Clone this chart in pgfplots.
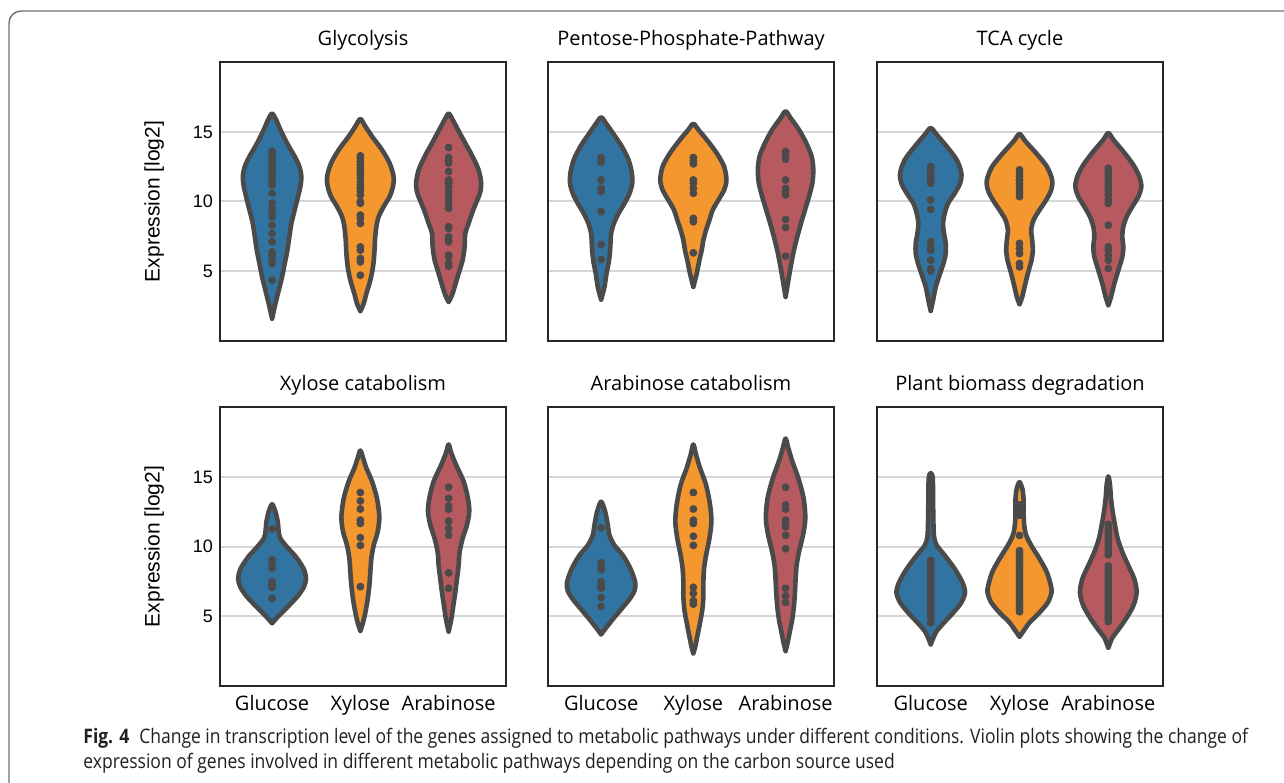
\documentclass[border=0pt]{standalone}
\usepackage{fontspec}
\setmainfont{Open Sans}
\newfontfamily\arial{Liberation Sans}
\newfontfamily\capfont[FakeStretch=0.875]{Open Sans}
\usepackage{pgfplots}
\pgfplotsset{compat=1.18}
\definecolor{vblue}{HTML}{3274A1}
\definecolor{vorange}{HTML}{F5972F}
\definecolor{vred}{HTML}{B65A5F}
\definecolor{vedge}{HTML}{4A4A4A}
\definecolor{vgrid}{HTML}{D6D6D6}
\definecolor{vframe}{HTML}{262626}
\definecolor{capframe}{HTML}{707070}
\definecolor{captext}{HTML}{231F20}

% #1 centre, #2 fill, #3 width divisor, #4 bottom tip, #5 top tip, #6 y/halfwidth pairs (bottom to top)
\newcommand{\violin}[6]{%
  \gdef\vR{}\gdef\vL{}%
  \foreach \yy/\ww in {#6} {%
    \pgfmathsetmacro{\xr}{#1+\ww/#3}%
    \pgfmathsetmacro{\xl}{#1-\ww/#3}%
    \xdef\vR{\vR(\xr,\yy)}%
    \xdef\vL{(\xl,\yy)\vL}%
  }%
  \edef\doplot{\noexpand\addplot[violin, fill=#2] coordinates {(#1,#4)\vR(#1,#5)\vL(#1,#4)};}%
  \doplot
}
\newcommand{\vpts}[2]{%
  \gdef\vP{}%
  \foreach \yy in {#2} {\xdef\vP{\vP(#1,\yy)}}%
  \edef\doplot{\noexpand\addplot[pts] coordinates {\vP};}%
  \doplot
}

\pgfplotsset{
  violin/.style={smooth, draw=vedge, line width=2.3pt, line join=round, line cap=round, mark=none},
  pts/.style={only marks, mark=*, mark size=1.75pt, color=vedge, mark options={draw=none, fill=vedge}},
  every axis title/.style={at={(0.5,1)}, anchor=base, yshift=8pt, font=\fontsize{10}{12}\selectfont},
  panel/.style={
    scale only axis, width=143pt, height=139.5pt,
    ymin=-0.05, ymax=20.05,
    ytick={5,10,15}, yticklabels={}, xtick={0,1,2}, xticklabels={},
    ymajorgrids, grid style={vgrid, line width=1pt},
    axis line style={vframe, line width=1.3pt},
    major tick length=0pt, tick style={draw=none},
    anchor=south west,
  },
  colA/.style={xmin=-0.59, xmax=2.65,
    yticklabels={5,10,15},
    yticklabel style={font=\arial\fontsize{9}{9}\selectfont},
    ylabel={Expression [log2]},
    ylabel style={font=\arial\fontsize{10.5}{12}\selectfont, at={(axis description cs:-0.23,0.5)}, anchor=center}},
  colB/.style={xmin=-0.576, xmax=2.525},
  colC/.style={xmin=-0.605, xmax=2.616},
  rowB/.style={xticklabels={Glucose,Xylose,Arabinose},
    xticklabel style={font=\fontsize{10}{12}\selectfont, anchor=base, yshift=-12pt}},
}

\begin{document}
\begin{tikzpicture}
\useasboundingbox (0,0) rectangle (642pt,391pt);
\fill[white] (0,0) rectangle (642pt,391pt);
\draw[capframe, line width=0.7pt, rounded corners=6pt] (4.5pt,-6pt) -- (4.5pt,385.5pt) -- (660pt,385.5pt);

% ---------------- Glycolysis
\begin{axis}[panel, colA, at={(110pt,220.5pt)}, title={Glycolysis}]
\violin{0}{vblue}{265.5}{1.55}{16.33}{2.64/10, 3.6/20, 4.57/30, 5.53/38, 6.49/46, 7.46/52, 8.42/58, 9.39/68, 10.35/78, 11.07/85, 11.8/88, 12.52/82, 13.24/68, 14.2/45, 15.17/25, 15.89/12}
\violin{1}{vorange}{265.5}{2.1}{15.94}{2.64/10, 3.36/18, 4.33/30, 5.29/38, 6.25/42, 7.22/44, 8.18/48, 8.9/55, 9.63/70, 10.35/88, 11.07/98, 11.8/100, 12.76/88, 13.72/65, 14.69/35, 15.41/15}
\violin{2}{vred}{265.5}{2.76}{16.33}{3.24/10, 3.84/18, 4.81/30, 5.77/42, 6.73/48, 7.7/50, 8.42/60, 9.14/70, 9.87/82, 10.59/94, 11.31/98, 12.28/90, 13.24/72, 14.2/50, 15.17/28, 15.89/12}
\vpts{0}{13.6, 13.36, 13.12, 12.88, 12.64, 12.4, 12.16, 11.92, 11.67, 11.43, 11.19, 10.59, 9.87, 9.51, 9.27, 8.9, 8.3, 7.7, 7.1, 6.37, 6.13, 5.77, 5.53, 4.33}
\vpts{1}{13.29, 13.12, 12.88, 12.64, 12.4, 12.16, 11.92, 11.67, 11.43, 11.19, 10.95, 10.71, 10.47, 9.99, 9.87, 9.02, 8.78, 8.42, 6.73, 6.49, 5.89, 5.65, 4.69}
\vpts{2}{13.89, 13.17, 12.93, 12.76, 12.16, 11.55, 11.43, 11.31, 11.07, 10.71, 10.4, 10.11, 9.75, 9.51, 8.18, 8.06, 7.46, 7.22, 7.1, 6.13, 6.01, 5.53, 5.34}
\end{axis}

% ---------------- Pentose-Phosphate-Pathway
\begin{axis}[panel, colB, at={(274pt,220.5pt)}, title={Pentose-Phosphate-Pathway}]
\violin{0}{vblue}{276}{2.93}{16.06}{3.84/10, 4.81/16, 5.53/22, 6.25/26, 6.98/28, 7.7/30, 8.42/38, 9.14/52, 9.87/70, 10.59/85, 11.31/93, 12.04/92, 13.0/82, 13.96/62, 14.93/35, 15.65/14}
\violin{1}{vorange}{276}{3.84}{15.6}{4.81/10, 5.77/18, 6.49/25, 7.22/30, 7.94/38, 8.66/48, 9.39/58, 10.11/75, 10.83/92, 11.55/99, 12.52/92, 13.48/70, 14.45/40, 15.17/15}
\violin{2}{vred}{276}{3.12}{16.5}{3.84/5, 4.57/10, 5.53/17, 6.49/25, 7.46/35, 8.42/46, 9.39/58, 10.35/70, 11.31/80, 12.28/83, 13.24/78, 14.2/62, 15.17/40, 16.01/15}
\vpts{0}{13.17, 13.0, 12.83, 11.55, 10.95, 10.71, 9.27, 6.9, 5.82}
\vpts{1}{13.17, 12.93, 12.71, 11.55, 11.31, 10.95, 10.59, 8.78, 8.54, 6.3}
\vpts{2}{13.6, 13.36, 13.05, 11.55, 10.95, 10.71, 10.47, 8.71, 8.13, 6.06}
\end{axis}

% ---------------- TCA cycle
\begin{axis}[panel, colC, at={(438.5pt,220.5pt)}, title={TCA cycle}]
\violin{0}{vblue}{266.5}{2.11}{15.29}{2.88/7, 3.84/15, 4.81/28, 5.53/38, 6.25/45, 6.98/45, 7.7/40, 8.42/37, 9.14/42, 9.87/52, 10.59/72, 11.31/88, 12.04/92, 13.0/78, 13.96/48, 14.81/18}
\violin{1}{vorange}{266.5}{2.59}{14.86}{3.12/8, 3.84/15, 4.81/25, 5.77/36, 6.49/40, 7.22/38, 7.94/35, 8.66/42, 9.39/60, 10.11/80, 10.83/95, 11.55/98, 12.52/82, 13.48/50, 14.33/18}
\violin{2}{vred}{266.5}{2.52}{14.93}{3.12/8, 4.08/18, 5.05/30, 6.01/42, 6.73/45, 7.46/42, 8.18/45, 8.9/55, 9.63/72, 10.35/90, 11.07/99, 11.8/93, 12.64/75, 13.6/45, 14.45/15}
\vpts{0}{12.52, 12.28, 12.04, 11.8, 11.55, 11.31, 10.11, 9.43, 7.1, 6.73, 6.49, 5.77, 5.17, 5.0}
\vpts{1}{12.28, 12.04, 11.8, 11.55, 11.31, 11.07, 10.83, 10.59, 10.35, 6.98, 6.61, 6.25, 5.53, 5.29}
\vpts{2}{12.4, 12.16, 11.92, 11.67, 11.43, 11.19, 10.95, 10.71, 10.47, 10.11, 9.87, 8.3, 6.73, 6.49, 6.13, 5.77, 5.17}
\end{axis}

% ---------------- Xylose catabolism
\begin{axis}[panel, colA, rowB, at={(110pt,48pt)}, title={Xylose catabolism}]
\violin{0}{vblue}{265.5}{4.47}{13.04}{4.88/15, 5.24/30, 5.85/55, 6.45/78, 7.06/95, 7.66/102, 8.39/95, 9.24/72, 9.96/45, 10.57/25, 11.05/20, 11.78/17, 12.51/10}
\violin{1}{vorange}{265.5}{3.91}{16.91}{4.52/8, 5.24/15, 6.21/22, 7.18/27, 8.15/30, 9.12/33, 10.08/40, 11.05/52, 12.14/57, 13.47/50, 14.69/35, 15.65/18, 16.38/8}
\violin{2}{vred}{265.5}{3.86}{17.35}{4.76/8, 5.73/14, 6.7/20, 7.66/25, 8.63/30, 9.6/33, 10.57/42, 11.54/55, 12.51/62, 13.47/58, 14.69/45, 15.9/22, 16.74/8}
\vpts{0}{11.25, 9.04, 8.83, 8.44, 7.47, 7.23, 7.06, 6.26}
\vpts{1}{13.89, 13.28, 12.7, 11.9, 11.66, 10.64, 10.08, 7.11}
\vpts{2}{14.27, 13.47, 12.92, 12.68, 11.83, 11.3, 10.81, 8.1, 6.99}
\end{axis}

% ---------------- Arabinose catabolism
\begin{axis}[panel, colB, rowB, at={(274pt,48pt)}, title={Arabinose catabolism}]
\violin{0}{vblue}{276}{3.67}{13.23}{4.15/15, 4.76/35, 5.48/60, 6.21/85, 6.82/100, 7.42/102, 8.39/88, 9.36/65, 10.08/40, 10.81/25, 11.54/20, 12.51/12}
\violin{1}{vorange}{276}{2.29}{17.35}{2.82/6, 3.55/12, 4.52/20, 5.48/27, 6.45/30, 7.42/30, 8.39/32, 9.36/38, 10.57/48, 11.78/54, 12.99/50, 14.44/38, 15.65/20, 16.62/8}
\violin{2}{vred}{276}{2.46}{17.78}{3.06/6, 3.79/12, 4.76/20, 5.73/25, 6.7/28, 7.66/30, 8.63/33, 9.6/40, 10.81/52, 12.02/59, 13.47/54, 14.93/38, 16.14/20, 17.11/8}
\vpts{0}{11.34, 8.83, 8.56, 8.34, 7.47, 7.23, 7.01, 6.33, 5.68}
\vpts{1}{13.89, 12.7, 11.9, 11.66, 10.74, 10.08, 7.06, 6.62, 6.09, 5.85}
\vpts{2}{14.27, 12.99, 12.7, 11.9, 11.66, 11.42, 10.81, 9.84, 6.99, 6.45, 5.97}
\end{axis}

% ---------------- Plant biomass degradation
\begin{axis}[panel, colC, rowB, at={(438.5pt,48pt)}, title={Plant biomass degradation}]
\violin{0}{vblue}{266.5}{2.94}{15.29}{3.43/8, 3.91/18, 4.52/40, 5.24/68, 5.97/92, 6.69/103, 7.42/95, 8.39/72, 9.36/42, 10.08/18, 10.69/10, 11.78/8, 13.47/7, 14.93/6}
\violin{1}{vorange}{266.5}{3.5}{14.64}{3.91/12, 4.52/30, 5.24/60, 5.97/85, 6.69/96, 7.18/94, 8.15/82, 9.12/60, 10.08/35, 10.81/20, 11.54/14, 12.51/12, 13.47/12, 14.2/8}
\violin{2}{vred}{266.5}{2.7}{15.05}{3.43/12, 3.94/28, 4.76/52, 5.73/75, 6.69/85, 7.66/78, 8.63/60, 9.6/42, 10.57/28, 11.54/20, 12.51/13, 13.47/8, 14.44/5}
\vpts{0}{9.0, 8.8, 8.6, 8.4, 8.2, 8.0, 7.8, 7.6, 7.4, 7.2, 7.0, 6.8, 6.6, 6.4, 6.2, 6.0, 5.8, 5.6, 5.4, 5.2, 5.0, 4.8, 4.5}
\vpts{1}{13.0, 12.7, 12.5, 12.26, 10.8, 9.7, 9.5, 9.3, 9.1, 8.9, 8.7, 8.5, 8.3, 8.1, 7.9, 7.7, 7.5, 7.3, 7.1, 6.9, 6.7, 6.5, 6.3, 6.1, 5.9, 5.7, 5.5, 5.3}
\vpts{2}{11.6, 11.3, 11.0, 10.8, 10.6, 10.4, 10.2, 10.0, 9.8, 9.6, 9.4, 8.6, 8.4, 8.2, 8.0, 7.8, 7.6, 7.4, 7.2, 7.0, 6.8, 6.6, 6.4, 6.2, 6.0, 5.8, 5.6, 5.4, 5.2, 5.0, 4.8, 4.6}
\end{axis}

% ---------------- caption
\node[anchor=base west, inner sep=0pt, text=captext, font=\capfont\fontsize{10}{12}\selectfont] at (41.5pt,19.5pt)
  {\textbf{Fig. 4}\hspace{0.5em}Change in transcription level of the genes assigned to metabolic pathways under different conditions. Violin plots showing the change of};
\node[anchor=base west, inner sep=0pt, text=captext, font=\capfont\fontsize{10}{12}\selectfont] at (41.5pt,7pt)
  {expression of genes involved in different metabolic pathways depending on the carbon source used};
\end{tikzpicture}
\end{document}
